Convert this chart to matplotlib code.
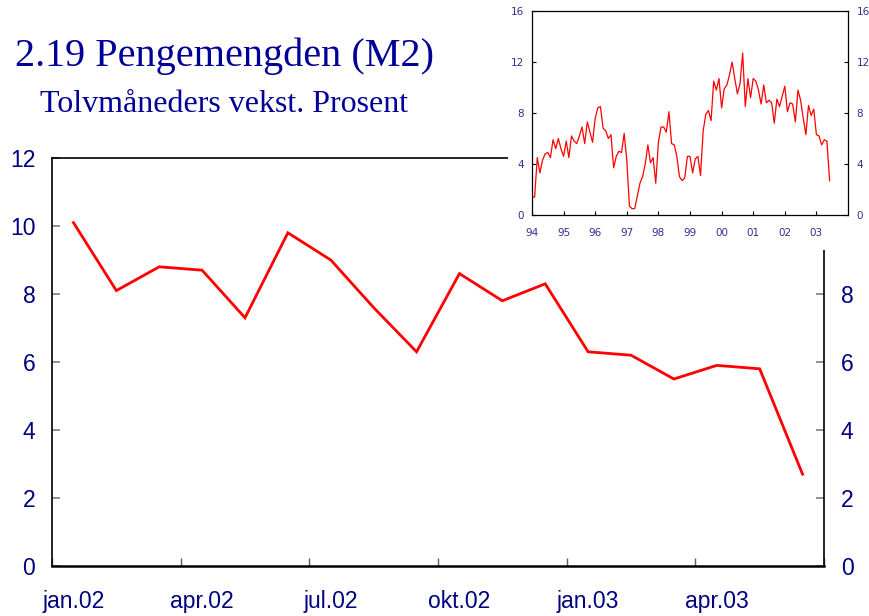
import matplotlib
matplotlib.use("Agg")
import matplotlib.pyplot as plt
import numpy as np

# Main chart: monthly 12-month growth, jan.02 - jun.03
main_values = [10.1, 8.1, 8.8, 8.7, 7.3, 9.8, 9.0, 7.6, 6.3, 8.6, 7.8, 8.3,
               6.3, 6.2, 5.5, 5.9, 5.8, 2.7]
main_labels = ['jan.02', 'apr.02', 'jul.02', 'okt.02', 'jan.03', 'apr.03']

# Inset: monthly, jan.94 - dec.01 (2002-2003 taken from main_values)
inset_early = [1.4, 1.4, 4.5, 3.3, 4.3, 4.8, 4.9, 4.5, 5.9, 5.2, 6.0, 5.2,
               4.6, 5.8, 4.5, 6.2, 5.8, 5.6, 6.2, 6.9, 5.6, 7.3, 6.5, 5.7,
               7.6, 8.4, 8.5, 6.8, 6.6, 6.0, 6.3, 3.7, 4.6, 5.0, 4.9, 6.4,
               4.3, 0.7, 0.5, 0.5, 1.5, 2.5, 3.0, 4.0, 5.5, 4.1, 4.5, 2.5,
               5.7, 6.9, 6.9, 6.5, 8.1, 5.6, 5.5, 4.6, 3.0, 2.7, 2.9, 4.6,
               4.6, 3.3, 4.4, 4.6, 3.1, 6.6, 7.9, 8.2, 7.4, 10.5, 9.8, 10.7,
               8.4, 9.9, 10.2, 11.0, 12.0, 10.7, 9.5, 10.3, 12.7, 8.5, 10.7, 9.2,
               10.7, 10.5, 9.8, 8.7, 10.2, 8.8, 9.0, 8.8, 7.2, 9.1, 8.5, 9.3]
inset_values = inset_early + main_values
inset_years = ['94', '95', '96', '97', '98', '99', '00', '01', '02', '03']

navy = '#000080'
title_blue = '#000099'
inset_blue = '#2E3192'

fig = plt.figure(figsize=(8.69, 6.16), dpi=100)
fig.patch.set_facecolor('white')

# Main axes
ax = fig.add_axes([52 / 869, 50 / 616, 772 / 869, 408 / 616])
x = np.arange(len(main_values))
ax.plot(x, main_values, color='#FF0000', lw=2.0, solid_joinstyle='miter')
ax.set_xlim(-0.5, len(main_values) - 0.5)
ax.set_ylim(0, 12)
ax.set_yticks(range(0, 13, 2))
ax.tick_params(axis='y', which='major', direction='in', length=6, width=1.2,
               color='#808080', labelsize=16.5, labelcolor=navy,
               left=True, right=True, labelleft=True, labelright=True, pad=12)
# right-hand labels above 8 sit under the inset
for tick, val in zip(ax.yaxis.get_major_ticks(), range(0, 13, 2)):
    if val > 8:
        tick.label2.set_visible(False)
        tick.tick2line.set_visible(False)
ax.set_xticks(np.arange(-0.5, len(main_values), 3))
ax.set_xticklabels([])
ax.set_xticks(np.arange(0, len(main_values), 3), minor=True)
ax.set_xticklabels(main_labels, minor=True)
ax.tick_params(axis='x', which='major', direction='in', length=6, width=1.0,
               color='#606060')
ax.tick_params(axis='x', which='minor', length=0, labelsize=16.5,
               labelcolor=navy, pad=17)
for side in ['left', 'right', 'top']:
    ax.spines[side].set_linewidth(1.2)
ax.spines['bottom'].set_linewidth(1.8)
for lab in ax.get_xticklabels(minor=True) + ax.get_yticklabels():
    lab.set_family('Liberation Sans')

# Titles
fig.text(15 / 869, 1 - 56 / 616, '2.19 Pengemengden (M2)', family='Liberation Serif',
         fontsize=29, color=title_blue, va='center', ha='left')
fig.text(40 / 869, 1 - 104 / 616, 'Tolvmåneders vekst. Prosent', family='Liberation Serif',
         fontsize=23, color=title_blue, va='center', ha='left')

# White background behind the inset
bg = fig.add_axes([508 / 869, 1 - 250 / 616, 361 / 869, 250 / 616])
bg.set_facecolor('white')
bg.set_xticks([])
bg.set_yticks([])
for s in bg.spines.values():
    s.set_visible(False)

# Inset chart
ins = fig.add_axes([532 / 869, 1 - 215 / 616, 316 / 869, 204 / 616])
ins.plot(np.arange(len(inset_values)), inset_values, color='#FF0000', lw=0.9)
ins.set_xlim(0, 120)
ins.set_ylim(0, 16)
ins.set_yticks(range(0, 17, 4))
ins.set_xticks(np.arange(0, 12 * len(inset_years), 12))
ins.set_xticklabels(inset_years)
ins.tick_params(axis='both', direction='in', length=3, width=0.8,
                labelsize=7.5, labelcolor=inset_blue)
ins.tick_params(axis='y', left=True, right=True, labelleft=True,
                labelright=True, pad=6)
ins.tick_params(axis='x', pad=9)
for s in ins.spines.values():
    s.set_linewidth(0.9)

fig.savefig('out.png', dpi=100, facecolor='white')
